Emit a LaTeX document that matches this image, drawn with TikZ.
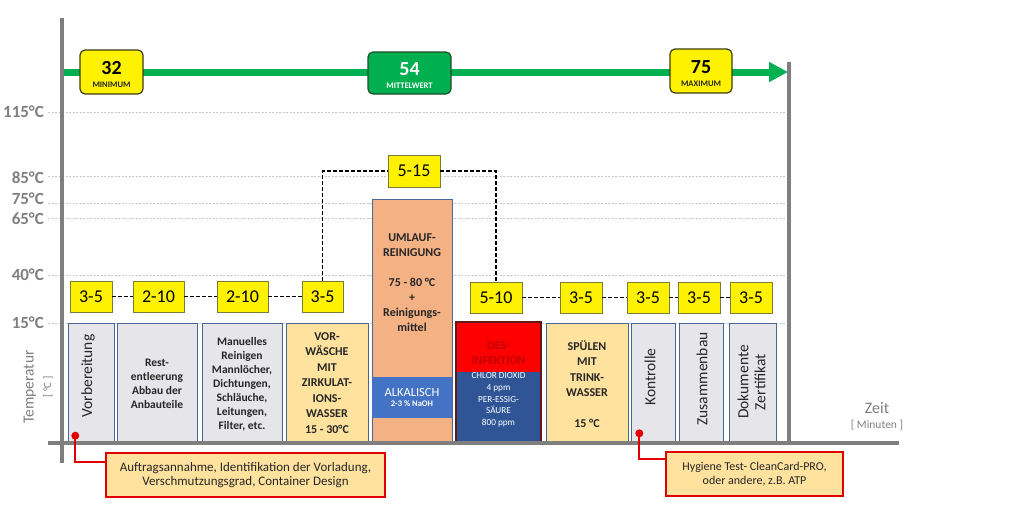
\documentclass[tikz,border=0pt]{standalone}
\usepackage{fontspec}
\setmainfont{Carlito}
\usetikzlibrary{arrows.meta}
\definecolor{axisgray}{HTML}{7F7F7F}
\definecolor{gridgray}{HTML}{C8C8C8}
\definecolor{tboxborder}{HTML}{7A7A3A}
\definecolor{boxgray}{HTML}{E6E6EA}
\definecolor{boxborder}{HTML}{4A6694}
\definecolor{txtdark}{HTML}{262626}
\definecolor{warmfill}{HTML}{FFE29E}
\definecolor{salmon}{HTML}{F4B183}
\definecolor{alkblue}{HTML}{4472C4}
\definecolor{desblue}{HTML}{2F5597}
\definecolor{desred}{HTML}{FF0000}
\definecolor{desdark}{HTML}{C00000}
\definecolor{desborder}{HTML}{5E1A1A}
\definecolor{kpigreen}{HTML}{00B050}
\definecolor{kpigreenborder}{HTML}{1E4D2B}
\definecolor{kpiyellowborder}{HTML}{3D3D10}
\definecolor{calloutred}{HTML}{E00000}
\definecolor{calloutfill}{HTML}{FFE29E}
\begin{document}
\begin{tikzpicture}[x=1pt,y=-1pt,
  gridline/.style={draw=gridgray, line width=0.6pt, dash pattern=on 2pt off 1.5pt},
  axisline/.style={draw=axisgray, line width=4pt},
  templbl/.style={anchor=east, text=axisgray, font=\fontsize{17}{17}\selectfont\bfseries, inner sep=0pt},
  tbox/.style={draw=tboxborder, fill=yellow, line width=0.7pt, inner sep=0pt, minimum height=31pt, font=\fontsize{18}{18}\selectfont},
  tlink/.style={draw=black, line width=1.3pt, dash pattern=on 4pt off 2pt},
  graybox/.style={draw=boxborder, fill=boxgray, line width=0.8pt, inner sep=0pt, minimum height=120pt},
  boxtxt/.style={align=center, text=txtdark, font=\fontsize{11.5}{14}\selectfont\bfseries, inner sep=0pt},
  rottxt/.style={rotate=90, text=txtdark, font=\fontsize{15.5}{17}\selectfont, inner sep=0pt, align=center},
  kpi/.style={rounded corners=5pt, line width=1.2pt, inner sep=0pt},
  callout/.style={draw=calloutred, fill=calloutfill, line width=2.5pt, inner sep=0pt, align=center, text=txtdark},
  redline/.style={draw=calloutred, line width=2pt},
  reddot/.style={circle, fill=calloutred, inner sep=0pt, minimum size=8pt},
  greenarrow/.style={draw=kpigreen, line width=7pt, -{Triangle[length=19pt,width=19pt]}}
]
\useasboundingbox[fill=white] (0,0) rectangle (1032,507);

% grid lines
\foreach \yy in {112,176,203,218,275,323} \draw[gridline] (48,\yy) -- (787,\yy);

% temperature labels
\node[templbl] (l115) at (44,112) {115°C};
\node[templbl] (l85) at (44,178) {85°C};
\node[templbl] (l75) at (44,199) {75°C};
\node[templbl] (l65) at (44,219) {65°C};
\node[templbl] (l40) at (44,275) {40°C};
\node[templbl] (l15) at (44,323) {15°C};

% axis titles
\node[rotate=90, text=axisgray, font=\fontsize{15.5}{15.5}\selectfont, inner sep=0pt] (ytitle) at (30,387) {Temperatur};
\node[rotate=90, text=axisgray, font=\fontsize{11}{11}\selectfont, inner sep=0pt] (yunit) at (48,387) {[ °C ]};
\node[text=axisgray, font=\fontsize{16}{16}\selectfont, inner sep=0pt] (xtitle) at (877,408) {Zeit};
\node[text=axisgray, font=\fontsize{11.5}{11.5}\selectfont, inner sep=0pt] (xunit) at (877,425) {[ Minuten ]};

% green arrow
\coordinate (gstart) at (64,72);
\coordinate (gend) at (788,72);
\draw[greenarrow] (gstart) -- (gend);

% KPI boxes
\node[kpi, draw=kpiyellowborder, fill=yellow, minimum width=63pt, minimum height=44pt] (m1) at (111.5,72) {};
\node[font=\fontsize{20}{20}\selectfont\bfseries, inner sep=0pt] (m1n) at (111.5,68) {32};
\node[font=\fontsize{8.5}{8.5}\selectfont\bfseries, text=txtdark, inner sep=0pt] (m1l) at (111.5,85) {MINIMUM};
\node[kpi, draw=kpigreenborder, fill=kpigreen, minimum width=83pt, minimum height=42pt] (m2) at (409.5,73) {};
\node[font=\fontsize{20}{20}\selectfont\bfseries, text=white, inner sep=0pt] (m2n) at (409.5,69) {54};
\node[font=\fontsize{8.5}{8.5}\selectfont\bfseries, text=white, inner sep=0pt] (m2l) at (409.5,85.5) {MITTELWERT};
\node[kpi, draw=kpiyellowborder, fill=yellow, minimum width=62pt, minimum height=44pt] (m3) at (701,71) {};
\node[font=\fontsize{20}{20}\selectfont\bfseries, inner sep=0pt] (m3n) at (701,67) {75};
\node[font=\fontsize{8.5}{8.5}\selectfont\bfseries, text=txtdark, inner sep=0pt] (m3l) at (701,84) {MAXIMUM};

% step boxes
\node[graybox, minimum width=46pt] (b1) at (91,383) {};
\node[rottxt] (b1t) at (88,376) {Vorbereitung};
\node[graybox, minimum width=80pt] (b2) at (157,383) {};
\node[boxtxt] (b2t) at (157,384) {Rest-\\entleerung\\Abbau der\\Anbauteile};
\node[graybox, minimum width=80pt] (b3) at (242,383) {};
\node[boxtxt] (b3t) at (242,384) {Manuelles\\Reinigen\\Mannlöcher,\\Dichtungen,\\Schläuche,\\Leitungen,\\Filter, etc.};
\node[graybox, fill=warmfill, minimum width=82pt] (b4) at (327,383) {};
\node[boxtxt, font=\fontsize{12}{15.5}\selectfont\bfseries] (b4t) at (327,383) {VOR-\\WÄSCHE\\MIT\\ZIRKULAT-\\IONS-\\WASSER\\15 - 30°C};
\node[graybox, fill=salmon, minimum width=80pt, minimum height=244pt] (b5) at (412,321) {};
\fill[alkblue] (372.4,377) rectangle (451.6,418);
\node[boxtxt, font=\fontsize{12}{15}\selectfont\bfseries] (b5t) at (412,283) {UMLAUF-\\REINIGUNG\\[15pt]75 - 80 °C\\+\\Reinigungs-\\mittel};
\node[text=white, font=\fontsize{12.5}{12.5}\selectfont, inner sep=0pt] (b5a) at (412,392) {ALKALISCH};
\node[text=white, font=\fontsize{8.5}{8.5}\selectfont\bfseries, inner sep=0pt] (b5b) at (412,404) {2-3 \% NaOH};
\node[draw=desborder, fill=desblue, line width=1.2pt, inner sep=0pt, minimum width=85pt, minimum height=121pt] (b6) at (498.5,382.5) {};
\fill[desred] (456.6,322.6) rectangle (540.4,372);
\draw[desborder, line width=1.2pt] (b6.north west) rectangle (b6.south east);
\node[boxtxt, text=desdark, font=\fontsize{12}{15}\selectfont\bfseries] (b6t) at (498.5,353) {DES-\\INFEKTION};
\node[align=center, text=white, font=\fontsize{9.2}{11.7}\selectfont, inner sep=0pt] (b6b) at (498.5,400) {CHLOR DIOXID\\4 ppm\\PER-ESSIG-\\SÄURE\\800 ppm};
\node[graybox, fill=warmfill, minimum width=82pt] (b7) at (587,383) {};
\node[boxtxt, font=\fontsize{12}{15.5}\selectfont\bfseries] (b7t) at (587,384) {SPÜLEN\\MIT\\TRINK-\\WASSER\\[15pt]15 °C};
\node[graybox, minimum width=44pt] (b8) at (653,383) {};
\node[rottxt] (b8t) at (650,377) {Kontrolle};
\node[graybox, minimum width=44pt] (b9) at (701,383) {};
\node[rottxt] (b9t) at (702,379) {Zusammenbau};
\node[graybox, minimum width=47pt] (b10) at (752.5,383) {};
\node[rottxt] (b10t) at (751.5,382) {Dokumente\\Zertifikat};

% time boxes
\node[tbox, minimum width=42pt] (t1) at (91,296.5) {3-5};
\node[tbox, minimum width=51pt] (t2) at (158.5,296.5) {2-10};
\node[tbox, minimum width=51pt] (t3) at (242.5,296.5) {2-10};
\node[tbox, minimum width=41pt] (t4) at (322.5,296.5) {3-5};
\node[tbox, minimum width=52pt, minimum height=32pt] (t5) at (414,171) {5-15};
\node[tbox, minimum width=52pt] (t6) at (496,297.5) {5-10};
\node[tbox, minimum width=42pt] (t7) at (581,297.5) {3-5};
\node[tbox, minimum width=42pt] (t8) at (648,297.5) {3-5};
\node[tbox, minimum width=42pt] (t9) at (699,297.5) {3-5};
\node[tbox, minimum width=42pt] (t10) at (751,297.5) {3-5};

\draw[tlink] (t1) -- (t2);
\draw[tlink] (t2) -- (t3);
\draw[tlink] (t3) -- (t4);
\draw[tlink] (t4.north) |- (t5.west);
\draw[tlink] (t5.east) -| (t6.north);
\draw[tlink] (t6) -- (t7);
\draw[tlink] (t7) -- (t8);
\draw[tlink] (t8) -- (t9);
\draw[tlink] (t9) -- (t10);

% axes
\draw[axisline] (62,18) -- (62,463);
\draw[axisline] (48,443) -- (899,443);
\draw[axisline] (789,62) -- (789,443);

% callouts
\node[callout, minimum width=279pt, minimum height=44pt, font=\fontsize{13}{14}\selectfont] (c1) at (245.5,475) {Auftragsannahme, Identifikation der Vorladung,\\Verschmutzungsgrad, Container Design};
\node[reddot] (d1) at (75.3,435.7) {};
\draw[redline] (d1.center) |- ([yshift=13pt]c1.west);
\node[callout, minimum width=177pt, minimum height=44pt, font=\fontsize{12}{14}\selectfont] (c2) at (754.5,474) {Hygiene Test- CleanCard-PRO,\\oder andere, z.B. ATP};
\node[reddot] (d2) at (639.3,433.3) {};
\draw[redline] (d2.center) |- ([yshift=15pt]c2.west);
\end{tikzpicture}
\end{document}
